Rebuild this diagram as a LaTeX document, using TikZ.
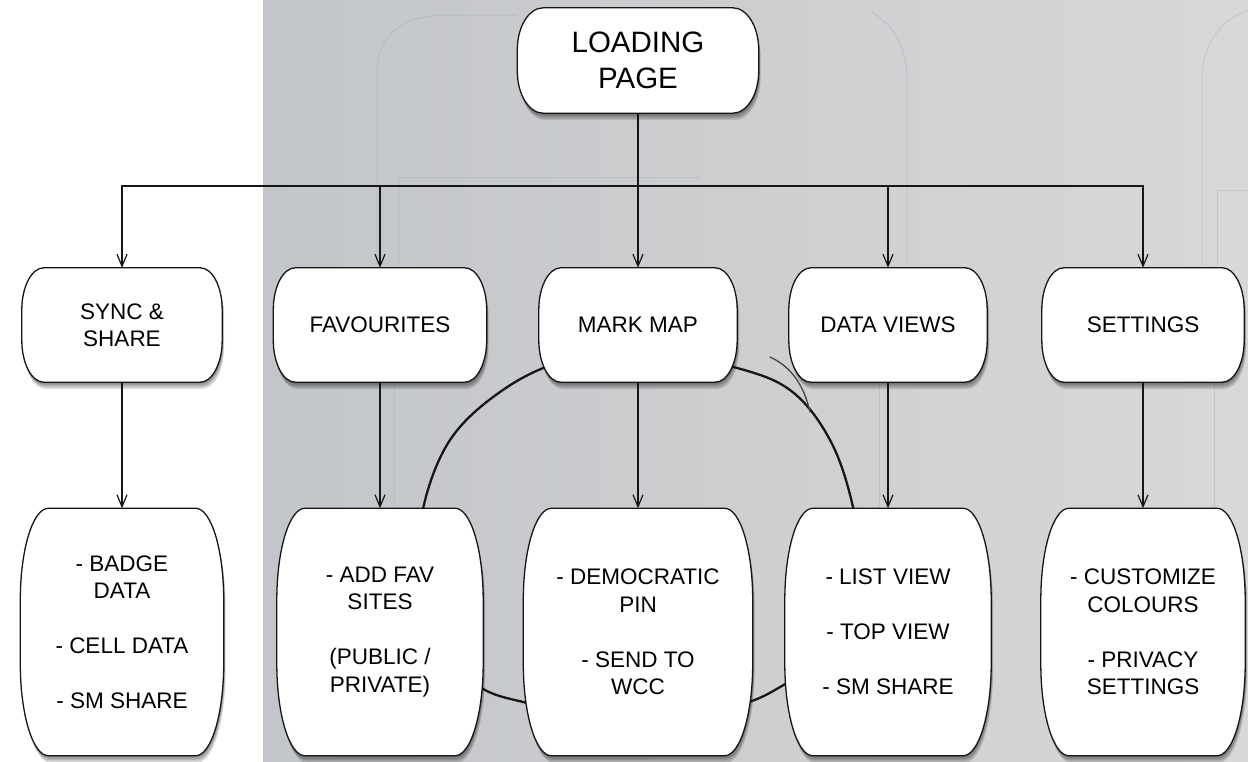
\documentclass[tikz,border=0pt]{standalone}
\usepackage{fontspec}
\setmainfont{Liberation Sans}
\usetikzlibrary{calc,arrows.meta}
\pgfdeclarelayer{photo}
\pgfdeclarelayer{circ}
\pgfdeclarelayer{shapes}
\pgfsetlayers{photo,circ,shapes,main}
\definecolor{photoL}{RGB}{194,197,202}
\definecolor{photoR}{RGB}{216,216,214}
\definecolor{sketch}{RGB}{160,168,184}
\definecolor{ink}{RGB}{22,22,22}

\newcommand\mybarrel[3]{%
\begin{pgfonlayer}{shapes}
\path[boxshape] ($(#1.north west)+(#2,0)$) -- ($(#1.north east)+(-#2,0)$)
 arc[start angle=90,end angle=0,x radius=#2,y radius=#3]
 -- ($(#1.south east)+(0,#3)$)
 arc[start angle=0,end angle=-90,x radius=#2,y radius=#3]
 -- ($(#1.south west)+(#2,0)$)
 arc[start angle=270,end angle=180,x radius=#2,y radius=#3]
 -- ($(#1.north west)+(0,-#3)$)
 arc[start angle=180,end angle=90,x radius=#2,y radius=#3]
 -- cycle;
\end{pgfonlayer}}

\tikzset{
  shadowcopy/.style={preaction={fill=black, fill opacity=0.11, draw=none,
    transform canvas={xshift=#1*0.4pt, yshift=-#1*1.4pt}}},
  boxshape/.style={shadowcopy=1, shadowcopy=2, shadowcopy=3, shadowcopy=4, shadowcopy=5,
    fill=white, draw=ink, line width=1.3pt},
  lbl/.style={inner sep=0pt, align=center, text=black, font=\fontsize{22.5}{27.5}\selectfont},
  lvltwo/.style={lbl, minimum height=114pt},
  lvlthree/.style={lbl, minimum height=247pt},
  conn/.style={draw=ink, line width=1.2pt, -{Straight Barb[length=12pt,width=10pt,line width=1.2pt]}},
  faint/.style={draw=sketch, line width=1pt, draw opacity=0.35},
}

\begin{document}
\begin{tikzpicture}[x=1pt,y=1pt]
\useasboundingbox (0,0) rectangle (1248,-761);

% background photo
\begin{pgfonlayer}{photo}
\fill[white] (0,0) rectangle (1248,-761);
\shade[left color=photoL, right color=photoR] (263,0) rectangle (1248,-761);
\draw[faint] (377,-265) -- (377,-75) .. controls (377,-40) and (395,-18) .. (440,-15) -- (517,-15);
\draw[faint] (398,-265) -- (398,-177) -- (700,-177);
\draw[faint] (907,-265) -- (907,-80) .. controls (907,-50) and (897,-28) .. (872,-12);
\draw[faint] (1202,-265) -- (1202,-80) .. controls (1202,-45) and (1220,-20) .. (1248,-10);
\draw[faint] (1217,-265) -- (1217,-190) -- (1248,-190);
\draw[faint] (394,-382) -- (394,-508);
\draw[faint] (879,-382) -- (879,-508);
\draw[faint] (1214,-382) -- (1214,-508);
\end{pgfonlayer}

% hand-drawn circle
\begin{pgfonlayer}{circ}
\draw[ink, line width=2.3pt, line cap=round] plot[smooth cycle, tension=0.6] coordinates {
 (640,-348) (730,-366) (790,-390) (830,-440) (853,-507) (865,-590) (840,-650)
 (787,-683) (749,-702) (690,-716) (635,-720) (580,-714) (527,-703) (480,-687)
 (440,-645) (420,-580) (423,-509) (450,-440) (500,-392) (560,-362)};
\draw[ink!80, line width=1.3pt, line cap=round] (770,-357) .. controls (792,-367) and (804,-386) .. (810,-412);
\end{pgfonlayer}

% nodes
\node[lbl, font=\fontsize{29.5}{36}\selectfont, minimum width=241pt, minimum height=105pt] (load) at (638,-60.5) {LOADING\\PAGE};
\mybarrel{load}{26}{42}

\node[lvltwo, minimum width=200pt] (sync) at (122,-325) {SYNC \&\\SHARE};
\node[lvltwo, minimum width=213pt] (fav)  at (380,-325) {FAVOURITES};
\node[lvltwo, minimum width=198pt] (mark) at (638,-325) {MARK MAP};
\node[lvltwo, minimum width=198pt] (data) at (888,-325) {DATA VIEWS};
\node[lvltwo, minimum width=202pt] (sett) at (1143,-325) {SETTINGS};
\foreach \n in {sync,fav,mark,data,sett}{\mybarrel{\n}{22}{42}}

\node[lvlthree, minimum width=203pt] (badge) at (122,-632) {- BADGE\\DATA\\[27.5pt]- CELL DATA\\[27.5pt]- SM SHARE};
\node[lvlthree, minimum width=206pt] (addfav) at (380,-632) {- ADD FAV\\SITES\\[27.5pt](PUBLIC /\\PRIVATE)};
\node[lvlthree, minimum width=229pt] (democ) at (638,-632) {- DEMOCRATIC\\PIN\\[27.5pt]- SEND TO\\WCC};
\node[lvlthree, minimum width=206pt] (views) at (888,-632) {- LIST VIEW\\[27.5pt]- TOP VIEW\\[27.5pt]- SM SHARE};
\node[lvlthree, minimum width=204pt] (cust) at (1143,-632) {- CUSTOMIZE\\COLOURS\\[27.5pt]- PRIVACY\\SETTINGS};
\foreach \n in {badge,addfav,democ,views,cust}{\mybarrel{\n}{28}{92}}

% connectors
\coordinate (bus) at (0,-186);
\draw[conn] (load.south) -- (load.south |- bus) -| (sync.north);
\draw[conn] (load.south) -- (load.south |- bus) -| (fav.north);
\draw[conn] (load.south) -- (mark.north);
\draw[conn] (load.south) -- (load.south |- bus) -| (data.north);
\draw[conn] (load.south) -- (load.south |- bus) -| (sett.north);

\draw[conn] (sync.south) -- (badge.north);
\draw[conn] (fav.south) -- (addfav.north);
\draw[conn] (mark.south) -- (democ.north);
\draw[conn] (data.south) -- (views.north);
\draw[conn] (sett.south) -- (cust.north);
\end{tikzpicture}
\end{document}
